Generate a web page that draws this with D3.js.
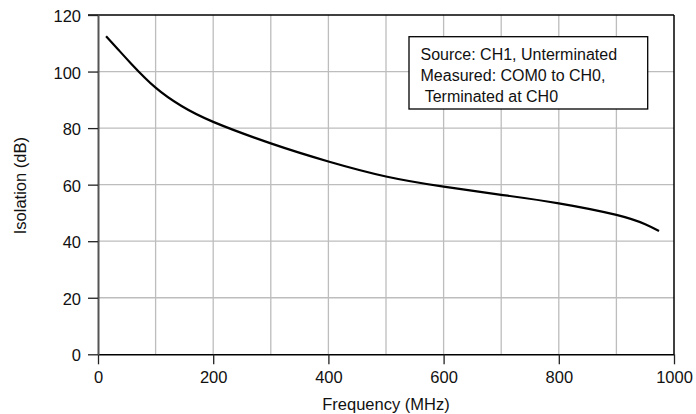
<!DOCTYPE html>
<html lang="en">
<head>
    <meta charset="UTF-8">
    <title>Isolation vs Frequency</title>
    <style>
        body {
            margin: 0;
            background-color: #fff;
        }
        svg {
            display: block;
            font-family: "Liberation Sans", Arial, Helvetica, sans-serif;
        }
        .grid line {
            stroke: #bdbdbd;
            stroke-width: 1.3px;
        }
        .tick text {
            font-size: 16.5px;
            fill: #111;
        }
    </style>
</head>
<body>

<svg id="chart" width="696" height="414"></svg>

<script src="https://cdn.jsdelivr.net/npm/d3@7"></script>
<script>
    // values
    const freqMHz = [14, 35, 58, 100, 145, 200, 300, 400, 500, 600, 700, 800, 900, 950, 974];
    const isolationDb = [112.5, 107.8, 102.7, 94.3, 87.8, 82.2, 74.6, 68.2, 62.9, 59.3, 56.4, 53.4, 49.3, 46.0, 43.6];
    const xTicks = [0, 200, 400, 600, 800, 1000];
    const yTicks = [0, 20, 40, 60, 80, 100, 120];
    const xGrid = [100, 200, 300, 400, 500, 600, 700, 800, 900];
    const legendLines = ["Source: CH1, Unterminated", "Measured: COM0 to CH0,", " Terminated at CH0"];

    const svg = d3.select("#chart");

    // plot area in pixels
    const plotLeft = 98, plotRight = 674, plotTop = 15, plotBottom = 354.3;

    const x = d3.scaleLinear().domain([0, 1000]).range([plotLeft, plotRight]);
    const y = d3.scaleLinear().domain([0, 120]).range([plotBottom, plotTop]);

    // grid lines
    svg.append("g").attr("class", "grid")
        .selectAll("line").data(xGrid).enter().append("line")
        .attr("x1", d => x(d)).attr("x2", d => x(d))
        .attr("y1", plotTop).attr("y2", plotBottom);

    svg.append("g").attr("class", "grid")
        .selectAll("line").data(yTicks.slice(1, -1)).enter().append("line")
        .attr("x1", plotLeft).attr("x2", plotRight)
        .attr("y1", d => y(d)).attr("y2", d => y(d));

    // top and right frame
    svg.append("line")
        .attr("x1", plotLeft - 10).attr("x2", plotRight)
        .attr("y1", plotTop).attr("y2", plotTop)
        .attr("stroke", "#000").attr("stroke-width", 1.3);
    svg.append("line")
        .attr("x1", plotRight).attr("x2", plotRight)
        .attr("y1", plotTop).attr("y2", plotBottom)
        .attr("stroke", "#000").attr("stroke-width", 1.5);

    // x axis
    const xAxis = svg.append("g")
        .attr("transform", `translate(0,${plotBottom})`)
        .call(d3.axisBottom(x).tickValues(xTicks).tickFormat(d3.format("d"))
            .tickSize(10).tickSizeOuter(0).tickPadding(7));
    xAxis.select(".domain").attr("stroke", "#000").attr("stroke-width", 1.5);
    xAxis.selectAll(".tick line").attr("stroke", "#222").attr("stroke-width", 1.3);

    // y axis
    const yAxis = svg.append("g")
        .attr("transform", `translate(${plotLeft},0)`)
        .call(d3.axisLeft(y).tickValues(yTicks).tickSize(10).tickSizeOuter(0).tickPadding(7));
    yAxis.select(".domain").attr("stroke", "#555").attr("stroke-width", 2);
    yAxis.selectAll(".tick line").attr("stroke", "#222").attr("stroke-width", 1.3);
    yAxis.selectAll(".tick text").attr("dy", "0.4em");

    // axis titles
    svg.append("text")
        .attr("x", (plotLeft + plotRight) / 2)
        .attr("y", 410)
        .attr("text-anchor", "middle")
        .style("font-size", "16.5px")
        .style("fill", "#111")
        .text("Frequency (MHz)");

    svg.append("text")
        .attr("transform", `translate(26,${(plotTop + plotBottom) / 2 + 1}) rotate(-90)`)
        .attr("text-anchor", "middle")
        .style("font-size", "16.5px")
        .style("fill", "#111")
        .text("Isolation (dB)");

    // curve
    const points = freqMHz.map((f, i) => [f, isolationDb[i]]);
    const line = d3.line()
        .x(d => x(d[0]))
        .y(d => y(d[1]))
        .curve(d3.curveNatural);

    svg.append("path")
        .datum(points)
        .attr("fill", "none")
        .attr("stroke", "#000")
        .attr("stroke-width", 2.2)
        .attr("d", line);

    // legend box
    const legend = svg.append("g");
    legend.append("rect")
        .attr("x", 409).attr("y", 36.7)
        .attr("width", 238.7).attr("height", 72.3)
        .attr("fill", "#fff")
        .attr("stroke", "#000")
        .attr("stroke-width", 1.3);

    legend.selectAll("text")
        .data(legendLines)
        .enter().append("text")
        .attr("x", 420.5)
        .attr("y", (d, i) => 59.5 + i * 21.3)
        .style("font-size", "16px")
        .style("fill", "#111")
        .style("white-space", "pre")
        .text(d => d);
</script>

</body>
</html>
